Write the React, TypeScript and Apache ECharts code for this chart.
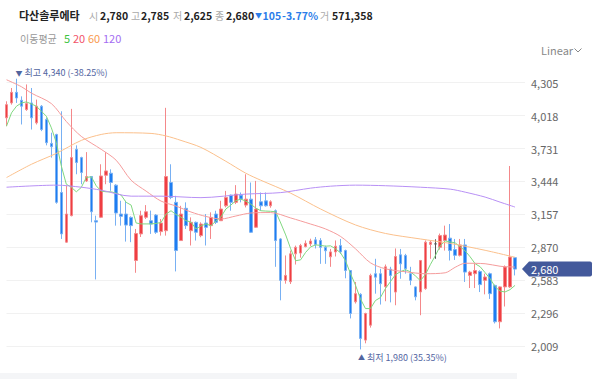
import { useEffect, useRef } from 'react';
import * as echarts from 'echarts';

// [open, close, low, high]
const ohlc: number[][] = [
  [3999, 4114, 3926, 4143], [4129, 4221, 4114, 4259], [4221, 4172, 4129, 4340], [4152, 4100, 3941, 4186],
  [4071, 4123, 4060, 4290], [4129, 3999, 3897, 4259], [3955, 4100, 3941, 4158], [4100, 3897, 3883, 4110],
  [3984, 3782, 3759, 4001], [3776, 3747, 3652, 3869], [3854, 3262, 3250, 3860], [3348, 2987, 2943, 4056],
  [2915, 3160, 2910, 3406], [3146, 3652, 3140, 4077], [3724, 3609, 3507, 3759], [3652, 3522, 3420, 3660],
  [3449, 3487, 3440, 3700], [3487, 3180, 3088, 3490], [3102, 3090, 2590, 3146], [3132, 3492, 3125, 3594],
  [3498, 3536, 3420, 3700], [3516, 3435, 3362, 3550], [3412, 3169, 3059, 3420], [3160, 3140, 3059, 3276],
  [3160, 3064, 2920, 3276], [3131, 3059, 2915, 3140], [2755, 2990, 2648, 3030], [2987, 3146, 2960, 3189],
  [3132, 3180, 3117, 3238], [3102, 3073, 2987, 3190], [3151, 3001, 2987, 3160], [3007, 3082, 2972, 3117],
  [3015, 3487, 2972, 4086], [3435, 3305, 3290, 3594], [3262, 2842, 2660, 3319], [2929, 3160, 2925, 3232],
  [3210, 3059, 3030, 3262], [3015, 3088, 2886, 3131], [3088, 3001, 2929, 3095], [2972, 3073, 2958, 3088],
  [3082, 3044, 2886, 3160], [3059, 3131, 2943, 3175], [3160, 3088, 3073, 3189], [3102, 3204, 3100, 3276],
  [3232, 3305, 3218, 3362], [3325, 3262, 3189, 3330], [3262, 3334, 3247, 3412], [3325, 3290, 3262, 3348],
  [3238, 3290, 3218, 3507], [3290, 3001, 2995, 3435], [3045, 3204, 3040, 3449], [3267, 3232, 3189, 3348],
  [3275, 3232, 3225, 3348], [3232, 3267, 3215, 3280], [3189, 2929, 2700, 3200], [2943, 2582, 2408, 2950],
  [2582, 2625, 2553, 2799], [2570, 2813, 2550, 2842], [2813, 2870, 2720, 2885], [2820, 2885, 2780, 2900],
  [2876, 2905, 2870, 2930], [2900, 2925, 2880, 2945], [2935, 2895, 2860, 2960], [2930, 2870, 2726, 2950],
  [2870, 2840, 2726, 2885], [2787, 2830, 2700, 2856], [2830, 2880, 2790, 2930], [2885, 2830, 2813, 2943],
  [2842, 2668, 2600, 2850], [2668, 2293, 2250, 2670], [2395, 2466, 2380, 2568], [2460, 2076, 1980, 2470],
  [2061, 2293, 2033, 2300], [2191, 2625, 2170, 2640], [2640, 2610, 2466, 2770], [2640, 2553, 2371, 2683],
  [2527, 2700, 2400, 2720], [2680, 2625, 2390, 2700], [2480, 2790, 2365, 2860], [2805, 2726, 2596, 2856],
  [2799, 2683, 2640, 2813], [2640, 2582, 2540, 2700], [2525, 2438, 2408, 2530], [2481, 2755, 2278, 2760],
  [2510, 2915, 2500, 2930], [2895, 2915, 2770, 2930], [2900, 2900, 2770, 2940], [2870, 2972, 2850, 2990],
  [2930, 2977, 2842, 3059], [2950, 2842, 2755, 3073], [2850, 2800, 2760, 2943], [2800, 2891, 2790, 2943],
  [2891, 2654, 2568, 2943], [2625, 2654, 2515, 2665], [2640, 2668, 2515, 2726], [2660, 2545, 2480, 2670],
  [2582, 2611, 2460, 2640], [2640, 2466, 2420, 2650], [2538, 2221, 2206, 2545], [2221, 2525, 2163, 2530],
  [2525, 2698, 2354, 2712], [2525, 2785, 2515, 3579], [2780, 2680, 2625, 2785],
];

const ma5: number[] = [
  3926, 4042, 4100, 4129, 4138, 4120, 4100, 4056, 4013, 3912, 3782, 3579, 3420, 3394, 3354, 3392,
  3479, 3485, 3406, 3360, 3354, 3354, 3342, 3325, 3262, 3238, 3082, 3074, 3074, 3074, 3078, 3087,
  3160, 3189, 3156, 3134, 3102, 3091, 3030, 3056, 3074, 3059, 3099, 3134, 3204, 3238, 3277, 3290,
  3273, 3247, 3212, 3189, 3186, 3184, 3180, 3082, 2978, 2857, 2753, 2761, 2826, 2874, 2891, 2887,
  2880, 2883, 2857, 2822, 2753, 2640, 2540, 2420, 2336, 2336, 2406, 2432, 2510, 2570, 2631, 2657,
  2675, 2657, 2622, 2579, 2631, 2718, 2796, 2883, 2926, 2917, 2909, 2874, 2839, 2787, 2727, 2701,
  2649, 2597, 2527, 2488, 2481, 2501, 2538,
];

const ma20: number[][] = [
  [0, 4331], [3, 4270], [5, 4214], [9, 4123], [12, 3967], [15, 3837], [19, 3724], [22, 3629],
  [25, 3455], [28, 3360], [31, 3273], [34, 3230], [37, 3178], [40, 3139], [43, 3117], [46, 3143],
  [49, 3169], [53, 3173], [57, 3126], [61, 3073], [64, 3030], [67, 2965], [70, 2857], [73, 2735],
  [76, 2683], [80, 2657], [84, 2640], [88, 2648], [90, 2696], [92, 2731], [96, 2727], [99, 2705],
  [102, 2698],
];

const ma60: number[][] = [
  [0, 3478], [5, 3594], [10, 3689], [15, 3802], [19, 3854], [22, 3869], [29, 3863], [32, 3841],
  [35, 3802], [39, 3741], [44, 3620], [48, 3516], [51, 3455], [57, 3342], [63, 3204], [70, 3065],
  [76, 2991], [83, 2943], [89, 2904], [96, 2844], [102, 2783],
];

const ma120: number[][] = [
  [0, 3394], [10, 3412], [15, 3394], [19, 3368], [25, 3316], [31, 3316], [39, 3303], [48, 3334],
  [55, 3347], [61, 3386], [65, 3403], [70, 3412], [76, 3407], [83, 3394], [89, 3377], [92, 3351],
  [96, 3308], [99, 3264], [102, 3221],
];

const yMin = 1722;
const yMax = 4592;
const yInterval = 287;
const totalSlots = 105;
const lastPrice = 2680;
const highPoint = { index: 2, value: 4340, pct: '-38.25%' };
const lowPoint = { index: 71, value: 1980, pct: '35.35%' };
const stockName = '다산솔루에타';
const headerLabels = ['시', '고', '저', '종'];
const headerValues = ['2,780', '2,785', '2,625', '2,680'];
const changeAmount = '105';
const changePct = '-3.77%';
const volumeLabel = '거';
const volumeValue = '571,358';
const maTitle = '이동평균';
const maPeriods = ['5', '20', '60', '120'];
const maColors = ['#3fc43f', '#f2546a', '#f99a4f', '#a46cf2'];
const maLineColors = ['#80d880', '#f59c9c', '#fbc08c', '#b890f5'];

const FONT = "'Noto Sans CJK KR', 'Noto Sans', sans-serif";
const fmt = (v: number) => v.toLocaleString('en-US');

export default function App() {
  const ref = useRef<HTMLDivElement>(null);
  useEffect(() => {
    if (!ref.current) return;
    const chart = echarts.init(ref.current, null, { renderer: 'svg' });
    const categories = Array.from({ length: totalSlots }, (_, i) => String(i));

    const headerX = [89, 131, 173, 215];
    const headerNumX = [100, 141, 184, 226];
    const numFont = `bold 10.5px ${FONT}`;
    const graphics: any[] = [
      { type: 'text', x: 19, y: 15, style: { text: stockName, fill: '#222', font: `bold 11px ${FONT}`, verticalAlign: 'middle' } },
    ];
    headerLabels.forEach((l, i) => {
      graphics.push({ type: 'text', x: headerX[i], y: 15, style: { text: l, fill: '#aaa', font: `10px ${FONT}`, verticalAlign: 'middle' } });
      graphics.push({ type: 'text', x: headerNumX[i], y: 15, style: { text: headerValues[i], fill: '#222', font: numFont, verticalAlign: 'middle' } });
    });
    graphics.push({ type: 'text', x: 255, y: 15, style: { text: '▼', fill: '#2b7de9', font: `7px ${FONT}`, verticalAlign: 'middle' } });
    graphics.push({ type: 'text', x: 262.5, y: 15, style: { text: changeAmount, fill: '#2b7de9', font: numFont, verticalAlign: 'middle' } });
    graphics.push({ type: 'text', x: 282, y: 15, style: { text: changePct, fill: '#2b7de9', font: numFont, verticalAlign: 'middle' } });
    graphics.push({ type: 'text', x: 320, y: 15, style: { text: volumeLabel, fill: '#aaa', font: `10px ${FONT}`, verticalAlign: 'middle' } });
    graphics.push({ type: 'text', x: 332, y: 15, style: { text: volumeValue, fill: '#222', font: numFont, verticalAlign: 'middle' } });
    graphics.push({ type: 'text', x: 20, y: 38, style: { text: maTitle, fill: '#999', font: `10px ${FONT}`, verticalAlign: 'middle' } });
    const maX = [64, 73, 88, 103];
    maPeriods.forEach((p, i) => {
      graphics.push({ type: 'text', x: maX[i], y: 38, style: { text: p, fill: maColors[i], font: `11px ${FONT}`, verticalAlign: 'middle' } });
    });
    graphics.push({ type: 'text', x: 541, y: 50, style: { text: 'Linear', fill: '#888', font: `11px ${FONT}`, verticalAlign: 'middle' } });
    graphics.push({ type: 'polyline', shape: { points: [[574.5, 48.5], [578, 52], [581.5, 48.5]] }, style: { stroke: '#888', lineWidth: 1, fill: null } });
    graphics.push({ type: 'rect', shape: { x: 0, y: 373, width: 517, height: 6 }, style: { fill: '#f4f5f7' } });

    const tagPath = 'path://M0,7.5L7,0L68,0Q70,0 70,2L70,13Q70,15 68,15L7,15Z';

    chart.setOption({
      animation: false,
      backgroundColor: '#fff',
      grid: { left: 6.5, right: 75, top: 49.8, bottom: -2.7, containLabel: false },
      xAxis: {
        type: 'category',
        data: categories,
        boundaryGap: false,
        show: false,
      },
      yAxis: {
        type: 'value',
        position: 'right',
        min: yMin,
        max: yMax,
        interval: yInterval,
        axisLine: { show: false },
        axisTick: { show: false },
        axisLabel: {
          color: '#666',
          fontSize: 11,
          fontFamily: FONT,
          margin: 6,
          showMinLabel: false,
          showMaxLabel: false,
          formatter: (v: number) => fmt(v),
        },
        splitLine: { show: true, showMaxLine: false, showMinLine: false, lineStyle: { color: '#f1f1f1', width: 1 } },
      },
      graphic: graphics,
      series: [
        {
          type: 'candlestick',
          data: ohlc,
          barWidth: 3,
          itemStyle: {
            color: '#ef3e42',
            color0: '#1e7df2',
            borderColor: '#f4888a',
            borderColor0: '#78b0f3',
            borderColorDoji: '#555',
            borderWidth: 1,
          },
          markPoint: {
            symbol: 'circle',
            symbolSize: 1,
            itemStyle: { color: 'rgba(0,0,0,0)' },
            data: [
              {
                coord: [highPoint.index, highPoint.value],
                label: {
                  show: true,
                  position: 'top',
                  distance: 1,
                  align: 'left',
                  offset: [-1, 0],
                  formatter: `{t|▼} 최고 ${fmt(highPoint.value)} (${highPoint.pct})`,
                  color: '#52659f',
                  fontSize: 9,
                  fontFamily: FONT,
                  rich: { t: { fontSize: 7, color: '#52659f' } },
                },
              },
              {
                coord: [lowPoint.index, lowPoint.value],
                label: {
                  show: true,
                  position: 'bottom',
                  distance: 3,
                  align: 'left',
                  offset: [-2.5, 0],
                  formatter: `{t|▲} 최저 ${fmt(lowPoint.value)} (${lowPoint.pct})`,
                  color: '#52659f',
                  fontSize: 9,
                  fontFamily: FONT,
                  rich: { t: { fontSize: 7, color: '#52659f' } },
                },
              },
              {
                coord: [totalSlots - 1, lastPrice],
                symbol: tagPath,
                symbolSize: [70, 15],
                symbolOffset: [32, 0],
                itemStyle: { color: '#43599b' },
                label: {
                  show: true,
                  position: 'inside',
                  align: 'left',
                  offset: [-26, 0],
                  formatter: fmt(lastPrice),
                  color: '#fff',
                  fontSize: 11,
                  fontFamily: FONT,
                },
              },
            ],
          },
        },
        {
          type: 'line', data: ma5.map((v, i) => [i, v]), showSymbol: false, symbol: 'none',
          lineStyle: { color: maLineColors[0], width: 1 }, z: 3,
        },
        {
          type: 'line', data: ma20, showSymbol: false, symbol: 'none', smooth: 0.3,
          lineStyle: { color: maLineColors[1], width: 1 }, z: 3,
        },
        {
          type: 'line', data: ma60, showSymbol: false, symbol: 'none', smooth: 0.3,
          lineStyle: { color: maLineColors[2], width: 1 }, z: 3,
        },
        {
          type: 'line', data: ma120, showSymbol: false, symbol: 'none', smooth: 0.3,
          lineStyle: { color: maLineColors[3], width: 1 }, z: 3,
        },
      ],
    });
    return () => chart.dispose();
  }, []);
  return <div ref={ref} style={{ position: 'absolute', left: 0, top: 0, width: 600, height: 379 }} />;
}
